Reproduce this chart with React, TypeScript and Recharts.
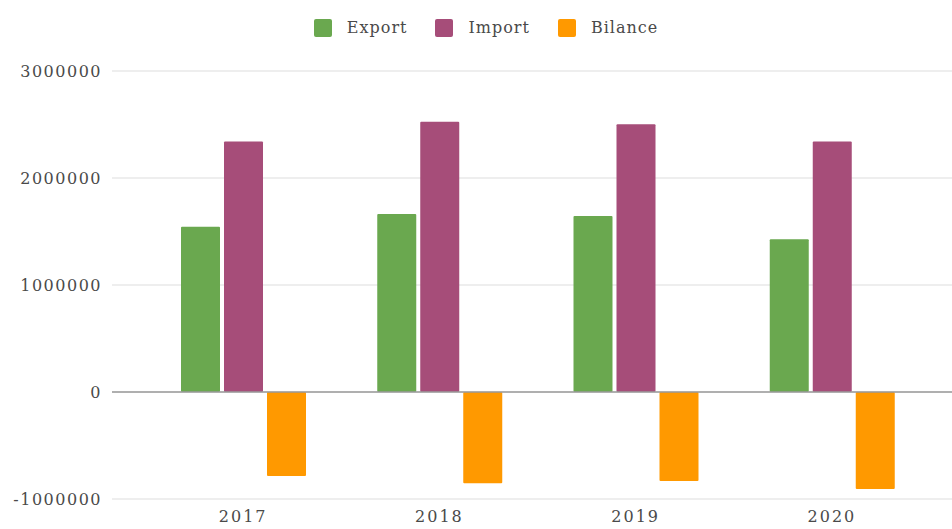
import React from 'react';
import { BarChart, Bar, XAxis, YAxis, CartesianGrid, ReferenceLine } from 'recharts';

const categories = ['2017', '2018', '2019', '2020'];
const exportValues = [1545000, 1664000, 1645000, 1427000];
const importValues = [2340000, 2526000, 2502000, 2340000];
const bilanceValues = [-785000, -853000, -832000, -907000];
const yTicks = [-1000000, 0, 1000000, 2000000, 3000000];

const seriesNames = ['Export', 'Import', 'Bilance'];
const seriesColors = ['#6aa84f', '#a64d79', '#ff9900'];

const data = categories.map((c, i) => ({
  year: c,
  Export: exportValues[i],
  Import: importValues[i],
  Bilance: bilanceValues[i],
}));

const FONT = '"DejaVu Serif", "Liberation Serif", serif';

export default function App() {
  return (
    <div style={{ position: 'absolute', left: 0, top: 0, width: 952, height: 529, background: '#fff' }}>
      <div
        style={{
          position: 'absolute',
          top: 18,
          left: 20,
          width: 932,
          display: 'flex',
          justifyContent: 'center',
          alignItems: 'center',
          fontFamily: FONT,
          fontSize: 16,
          color: '#4a4a4a',
          letterSpacing: 1,
          zIndex: 2,
        }}
      >
        {seriesNames.map((n, i) => (
          <div key={n} style={{ display: 'flex', alignItems: 'center', marginRight: i < seriesNames.length - 1 ? 28 : 0 }}>
            <span
              style={{
                display: 'inline-block',
                width: 18,
                height: 18,
                borderRadius: 2,
                background: seriesColors[i],
                marginRight: 15,
              }}
            />
            <span>{n}</span>
          </div>
        ))}
      </div>
      <BarChart
        width={952}
        height={529}
        data={data}
        margin={{ top: 71, right: 0, bottom: 0, left: 0 }}
        barGap={4}
        barSize={39}
      >
        <CartesianGrid vertical={false} stroke="#dedede" strokeWidth={1.2} />
        <XAxis
          dataKey="year"
          height={30}
          axisLine={false}
          tickLine={false}
          tickSize={0}
          tickMargin={12}
          padding={{ left: 33, right: 22 }}
          tick={{ fill: '#4a4a4a', fontSize: 16, fontFamily: FONT, letterSpacing: 2 }}
        />
        <YAxis
          width={112}
          domain={[-1000000, 3000000]}
          ticks={yTicks}
          interval={0}
          axisLine={false}
          tickLine={false}
          tickSize={0}
          tickMargin={10}
          tick={{ fill: '#4a4a4a', fontSize: 16, fontFamily: FONT, letterSpacing: 1.5 }}
        />
        <ReferenceLine y={0} stroke="#9a9a9a" strokeWidth={1.6} />
        {seriesNames.map((n, i) => (
          <Bar key={n} dataKey={n} fill={seriesColors[i]} radius={1} isAnimationActive={false} />
        ))}
      </BarChart>
    </div>
  );
}
